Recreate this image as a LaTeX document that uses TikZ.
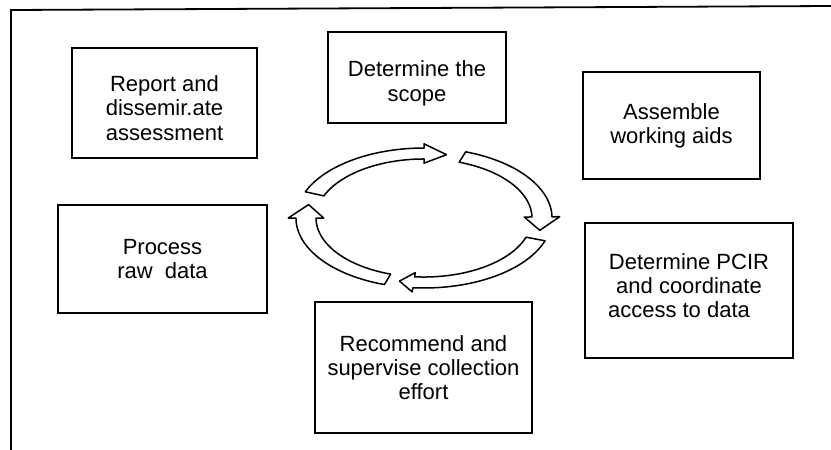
\documentclass[tikz,border=0pt]{standalone}
\usepackage{fontspec}
\setmainfont{Liberation Sans}
\newcommand{\topstrut}[1]{\rule{0pt}{#1}}
\newcommand{\botstrut}[1]{\rule[-#1]{0pt}{#1}}
\begin{document}
\begin{tikzpicture}[x=1pt,y=-1pt,
  box/.style={draw, line width=1.6pt, align=center, inner sep=0pt,
    font=\fontsize{22}{24.3}\selectfont},
  frameline/.style={line width=1.8pt},
  cyclearrow/.style={draw, line width=1.5pt, line join=round, fill=white}]
\useasboundingbox (0,0) rectangle (831,450);
% outer frame
\draw[frameline] (11,450) -- (11,10) -- (831,6);
% boxes
\node[box, minimum width=185pt, minimum height=110pt] (report) at (164.5,103)
  {\topstrut{26pt}Report and\\dissemir.ate\\assessment};
\node[box, minimum width=178pt, minimum height=91pt] (scope) at (417,77.5)
  {\topstrut{27.5pt}Determine the\\scope};
\node[box, minimum width=177pt, minimum height=107pt] (aids) at (671.5,125.5)
  {Assemble\\working aids};
\node[box, minimum width=209pt, minimum height=108pt] (process) at (162.5,259)
  {Process\\raw\ \ data};
\node[box, minimum width=208pt, minimum height=135pt] (pcir) at (689,290.5)
  {Determine PCIR\\and coordinate\\access to data\hspace*{20pt}\botstrut{10pt}};
\node[box, minimum width=217pt, minimum height=131pt] (recommend) at (423.5,367.5)
  {Recommend and\\supervise collection\\effort};
% cycle of block arrows
\begin{scope}[shift={(424,218)}, xscale=118, yscale=-64.5]
\foreach \s/\e/\t in {158/90/79, 71/1/-11, -19/-95/-102, -108/-180/-192}{
  \path[cyclearrow]
    plot[domain=\s:\e, samples=40] ({1.085*cos(\x)},{1.085*sin(\x)})
    -- ({1.15*cos(\e)},{1.15*sin(\e)})
    -- ({cos(\t)},{sin(\t)})
    -- ({0.85*cos(\e)},{0.85*sin(\e)})
    -- plot[domain=\e:\s, samples=40] ({0.915*cos(\x)},{0.915*sin(\x)})
    -- cycle;
}
\end{scope}
\end{tikzpicture}
\end{document}
